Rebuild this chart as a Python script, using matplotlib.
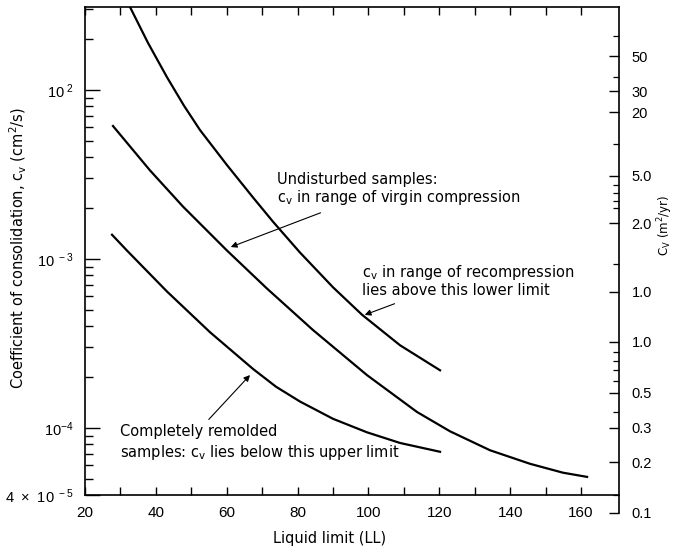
import matplotlib
matplotlib.use("Agg")
import matplotlib.pyplot as plt
import numpy as np

plt.rcParams['font.family'] = ['Liberation Sans', 'DejaVu Sans']
plt.rcParams['mathtext.fontset'] = 'dejavusans'

# ---- data ----
# Undisturbed samples, recompression lower limit (upper curve)
ll_recomp = [32.70, 37.78, 43.14, 47.94, 52.46, 60.08, 67.42, 73.06, 80.68, 89.99,
             98.18, 108.91, 120.20]
cv_recomp = [3.10e-2, 1.90e-2, 1.19e-2, 8.07e-3, 5.79e-3, 3.59e-3, 2.31e-3, 1.66e-3,
             1.09e-3, 6.79e-4, 4.67e-4, 3.08e-4, 2.19e-4]
# Undisturbed samples, virgin compression (middle curve)
ll_virgin = [27.90, 38.35, 47.66, 60.08, 71.37, 84.35, 99.59, 113.71, 123.02, 134.31,
             145.60, 154.91, 161.69]
cv_virgin = [6.12e-3, 3.34e-3, 2.04e-3, 1.12e-3, 6.67e-4, 3.79e-4, 2.05e-4, 1.24e-4,
             9.53e-5, 7.36e-5, 6.12e-5, 5.42e-5, 5.12e-5]
# Completely remolded samples, upper limit (lower curve)
ll_remold = [27.62, 31.85, 43.14, 55.28, 67.42, 73.91, 80.68, 90.00, 99.59, 108.91, 120.20]
cv_remold = [1.39e-3, 1.12e-3, 6.41e-4, 3.68e-4, 2.23e-4, 1.75e-4, 1.43e-4, 1.13e-4,
             9.40e-5, 8.13e-5, 7.21e-5]

x_ticks = [20, 40, 60, 80, 100, 120, 140, 160]
x_minor = [30, 50, 70, 90, 110, 130, 150]
y_major = [1e-2, 1e-3, 1e-4, 4e-5]
y_major_labels = [r'$\mathregular{10^{\ 2}}$', r'$\mathregular{10^{\ -3}}$',
                  r'$\mathregular{10^{-4}}$', r'$\mathregular{4\ \times\ 10^{\ -5}}$']

# right-hand scale (labels as printed), positions given in cm^2/s equivalent
right_labels = ['50', '30', '20', '5.0', '2.0', '1.0', '1.0', '0.5', '0.3', '0.2', '0.1']
right_pos = [1.589e-2, 9.86e-3, 7.41e-3, 3.10e-3, 1.633e-3, 6.38e-4, 3.23e-4, 1.611e-4,
             1.0e-4, 6.29e-5, 3.14e-5]
right_minor = [2.1e-2, 1.2e-2, 4.8e-3, 2.75e-3, 2.45e-3, 2.2e-3, 2.0e-3, 9.3e-4,
               2.8e-4, 2.5e-4, 2.2e-4, 1.9e-4, 1.25e-4, 4e-5]

W, H = 680, 551
fig = plt.figure(figsize=(6.8, 5.51), dpi=100)
L, R, T, B = 85, 619, 7, 495
ax = fig.add_axes([L / W, (H - B) / H, (R - L) / W, (B - T) / H])

lw = 1.6
ax.plot(ll_recomp, cv_recomp, color='black', lw=lw)
ax.plot(ll_virgin, cv_virgin, color='black', lw=lw)
ax.plot(ll_remold, cv_remold, color='black', lw=lw)

ax.set_yscale('log')
ax.set_xlim(20, 170.7)
ax.set_ylim(4e-5, 3.1e-2)

ax.set_xticks(x_ticks)
ax.set_xticklabels([str(v) for v in x_ticks])
ax.set_xticks(x_minor, minor=True)
ax.set_yticks(y_major)
ax.set_yticklabels(y_major_labels)
ax.yaxis.set_minor_locator(matplotlib.ticker.LogLocator(base=10, subs=np.arange(2, 10)))
ax.yaxis.set_minor_formatter(matplotlib.ticker.NullFormatter())

ax.tick_params(axis='x', which='both', direction='in', top=True, length=6, width=1.0,
               labelsize=11, pad=8)
ax.tick_params(axis='y', which='major', direction='in', length=11, width=1.0,
               labelsize=10.5, pad=8)
ax.tick_params(axis='y', which='minor', direction='in', length=6, width=1.0)
for s in ax.spines.values():
    s.set_linewidth(1.2)
ax.spines['right'].set_visible(False)

lab_font = 'DejaVu Sans'
ax.set_xlabel('Liquid limit (LL)', fontsize=10.5, family=lab_font)
ax.xaxis.set_label_coords((330 - L) / (R - L), -(531 - B) / (B - T))
ax.set_ylabel(r'Coefficient of consolidation, c$_\mathregular{v}$ (cm$^\mathregular{2}$/s)',
              fontsize=10.5, family=lab_font)
ax.yaxis.set_label_coords((29 - L) / (R - L), (B - 248) / (B - T))

# annotations
fs = 10.5
ax.text(74.2, 2.58e-3, 'Undisturbed samples:\n' + r'c$_\mathregular{v}$ in range of virgin compression',
        fontsize=fs, ha='left', va='center', linespacing=1.1, family=lab_font)
ax.annotate('', xy=(60.4, 1.16e-3), xytext=(87.2, 1.90e-3),
            arrowprops=dict(arrowstyle='-|>', lw=0.8, color='black', mutation_scale=9))
ax.text(98.2, 7.41e-4, r'c$_\mathregular{v}$ in range of recompression' + '\nlies above this lower limit',
        fontsize=fs, ha='left', va='center', linespacing=1.1, family=lab_font)
ax.annotate('', xy=(98.2, 4.60e-4), xytext=(108.1, 5.50e-4),
            arrowprops=dict(arrowstyle='-|>', lw=0.8, color='black', mutation_scale=9))
ax.text(29.9, 8.15e-5, 'Completely remolded\n' + r'samples: c$_\mathregular{v}$ lies below this upper limit',
        fontsize=fs, ha='left', va='center', linespacing=1.25, family=lab_font)
ax.annotate('', xy=(67.1, 2.11e-4), xytext=(54.4, 1.09e-4),
            arrowprops=dict(arrowstyle='-|>', lw=0.8, color='black', mutation_scale=9))

# right-hand scale
RB = 513
axr = fig.add_axes([L / W, (H - RB) / H, (R - L) / W, (RB - T) / H])
axr.patch.set_alpha(0)
axr.set_yscale('log')
axr.set_ylim(10 ** (-2 - (RB - 90) / 169.0), 3.1e-2)
axr.set_xlim(0, 1)
for k in ('left', 'top', 'bottom'):
    axr.spines[k].set_visible(False)
axr.spines['right'].set_linewidth(1.2)
axr.set_xticks([])
axr.yaxis.tick_right()
axr.set_yticks(right_pos)
axr.set_yticklabels(right_labels)
axr.set_yticks(right_minor, minor=True)
axr.yaxis.set_minor_formatter(matplotlib.ticker.NullFormatter())
axr.tick_params(axis='y', which='major', direction='in', length=7, width=1.0,
                labelsize=10.5, pad=9, right=True, left=False)
axr.tick_params(axis='y', which='minor', direction='in', length=4, width=0.9,
                right=True, left=False)

fig.text(665 / W, 1 - 225 / H, r'C$_\mathregular{V}$ (m$^\mathregular{2}$/yr)', rotation=90,
         ha='center', va='center', fontsize=8.5, family=lab_font)

fig.savefig('out.png', dpi=100)
